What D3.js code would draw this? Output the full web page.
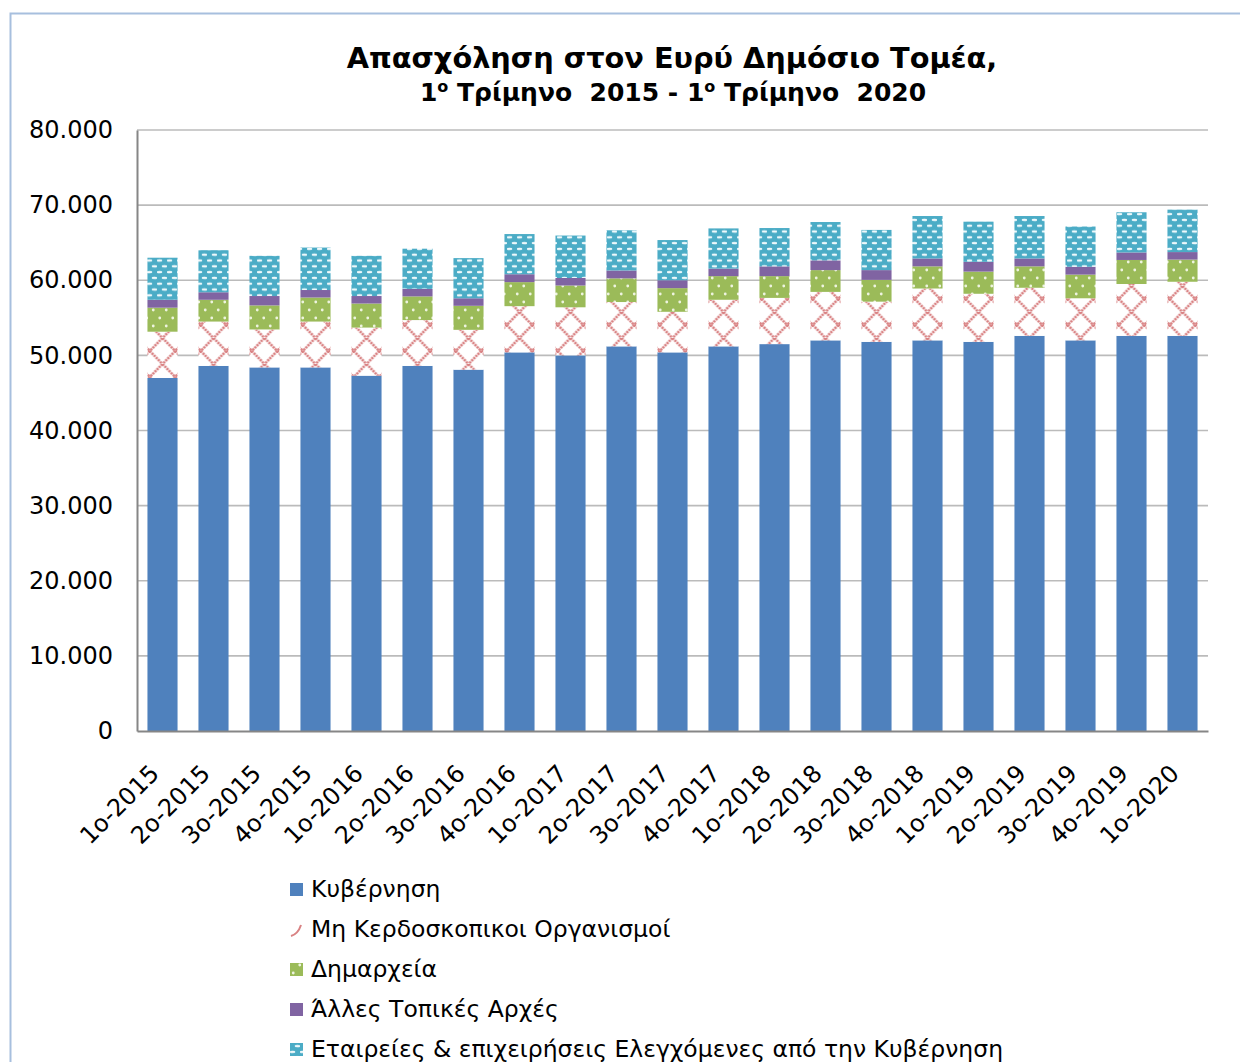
<!DOCTYPE html>
<html>
<head>
<meta charset="utf-8">
<script src="https://cdn.jsdelivr.net/npm/d3@7"></script>
<style>
  body { margin: 0; background: #fff; }
  svg { display: block; font-family: "DejaVu Sans", Verdana, sans-serif; }
</style>
</head>
<body>
<script>
// quarters on the x axis
var quarters = ["1ο-2015", "2ο-2015", "3ο-2015", "4ο-2015", "1ο-2016", "2ο-2016", "3ο-2016",
                "4ο-2016", "1ο-2017", "2ο-2017", "3ο-2017", "4ο-2017", "1ο-2018", "2ο-2018",
                "3ο-2018", "4ο-2018", "1ο-2019", "2ο-2019", "3ο-2019", "4ο-2019", "1ο-2020"];

// series values (employees), bottom to top
var kyvernisi = [47000, 48600, 48400, 48400, 47300, 48600, 48100, 50400, 50000, 51200, 50400,
                 51200, 51500, 52000, 51800, 52000, 51800, 52600, 52000, 52600, 52600];
var mhKerdoskopikoi = [6150, 5900, 5050, 6100, 6400, 6100, 5300, 6150, 6400, 5900, 5400,
                       6200, 6150, 6450, 5350, 6900, 6400, 6400, 5600, 6900, 7200];
var dimarxeia = [3200, 2900, 3200, 3200, 3200, 3150, 3200, 3200, 2900, 3150, 3150,
                 3150, 2900, 2900, 2900, 2950, 2950, 2850, 3150, 3200, 2950];
var allesArxes = [1050, 1000, 1250, 1000, 1000, 1000, 1000, 1050, 1000, 1050, 1050,
                  1000, 1300, 1300, 1300, 1050, 1300, 1050, 1050, 1000, 1000];
var etaireies = [5600, 5600, 5350, 5650, 5350, 5350, 5350, 5350, 5650, 5350, 5350,
                 5350, 5100, 5100, 5350, 5650, 5350, 5650, 5350, 5350, 5650];

var seriesNames = ["Κυβέρνηση", "Μη Κερδοσκοπικοι Οργανισμοί", "Δημαρχεία",
                   "Άλλες Τοπικές Αρχές", "Εταιρείες & επιχειρήσεις Ελεγχόμενες από την Κυβέρνηση"];
var seriesKeys = ["kyv", "npo", "dim", "alles", "etair"];
var yTicks = [0, 10000, 20000, 30000, 40000, 50000, 60000, 70000, 80000];

var width = 1240, height = 1062;
var margin = {top: 130, right: 32, bottom: 331, left: 137};
var plotW = width - margin.left - margin.right;
var plotH = height - margin.top - margin.bottom;

// build rows for the stack
var rows = quarters.map(function(q, i) {
  return {q: q, kyv: kyvernisi[i], npo: mhKerdoskopikoi[i], dim: dimarxeia[i],
          alles: allesArxes[i], etair: etaireies[i]};
});
var stacked = d3.stack().keys(seriesKeys)(rows);

var svg = d3.select("body")
            .append("svg")
            .attr("width", width)
            .attr("height", height);

// chart area border
svg.append("rect")
   .attr("x", 10.5)
   .attr("y", 13.5)
   .attr("width", width)
   .attr("height", height)
   .attr("fill", "none")
   .attr("stroke", "#A7BFDE")
   .attr("stroke-width", 2);

var g = svg.append("g")
           .attr("transform", "translate(" + margin.left + "," + margin.top + ")");

var xScale = d3.scaleBand()
  .domain(quarters)
  .range([0, plotW])
  .paddingInner(0.41)
  .paddingOuter(0.205);

var yScale = d3.scaleLinear()
  .domain([0, 80000])
  .range([plotH, 0]);

var step = xScale.step();

// fill patterns
var defs = svg.append("defs");

var cross = defs.append("pattern")
  .attr("id", "pat-npo")
  .attr("patternUnits", "userSpaceOnUse")
  .attr("x", step / 2)
  .attr("y", 0)
  .attr("width", step / 2)
  .attr("height", 26);
cross.append("rect").attr("width", step / 2).attr("height", 26).attr("fill", "#fff");
cross.append("path")
  .attr("d", "M0,0L" + (step / 2) + ",26M" + (step / 2) + ",0L0,26")
  .attr("stroke", "#D98283")
  .attr("stroke-width", 2.6)
  .attr("stroke-dasharray", "2.2,0.8");

var dots = defs.append("pattern")
  .attr("id", "pat-dim")
  .attr("patternUnits", "userSpaceOnUse")
  .attr("width", 13)
  .attr("height", 16);
dots.append("rect").attr("width", 13).attr("height", 16).attr("fill", "#9BBB59");
dots.append("circle").attr("cx", 3.25).attr("cy", 4).attr("r", 1.4).attr("fill", "#EEF4E0");
dots.append("circle").attr("cx", 9.75).attr("cy", 12).attr("r", 1.4).attr("fill", "#EEF4E0");

var ovals = defs.append("pattern")
  .attr("id", "pat-etair")
  .attr("patternUnits", "userSpaceOnUse")
  .attr("width", 10)
  .attr("height", 11.6);
ovals.append("rect").attr("width", 10).attr("height", 11.6).attr("fill", "#4BACC6");
ovals.append("ellipse").attr("cx", 2.5).attr("cy", 2.9).attr("rx", 2.9).attr("ry", 1.3).attr("fill", "#EEF8FB");
ovals.append("ellipse").attr("cx", 7.5).attr("cy", 8.7).attr("rx", 2.9).attr("ry", 1.3).attr("fill", "#EEF8FB");

var fills = {kyv: "#4F81BD", npo: "url(#pat-npo)", dim: "url(#pat-dim)",
             alles: "#8064A2", etair: "url(#pat-etair)"};

// gridlines
g.selectAll("line.grid")
  .data(yTicks.slice(1))
  .enter()
  .append("line")
  .attr("class", "grid")
  .attr("x1", 0)
  .attr("x2", plotW)
  .attr("y1", function(d) { return yScale(d); })
  .attr("y2", function(d) { return yScale(d); })
  .attr("stroke", "#BBBBBB")
  .attr("stroke-width", 1.6);

// stacked bars
g.selectAll("g.series")
  .data(stacked)
  .enter()
  .append("g")
  .attr("class", "series")
  .attr("fill", function(d) { return fills[d.key]; })
  .selectAll("rect")
  .data(function(d) { return d; })
  .enter()
  .append("rect")
  .attr("x", function(d) { return xScale(d.data.q); })
  .attr("y", function(d) { return yScale(d[1]); })
  .attr("width", xScale.bandwidth())
  .attr("height", function(d) { return yScale(d[0]) - yScale(d[1]); });

// y axis
var yAxis = g.append("g")
  .call(d3.axisLeft(yScale).tickValues(yTicks).tickSize(0).tickPadding(24)
          .tickFormat(function(d) { return d3.format(",")(d).replace(/,/g, "."); }));
yAxis.select(".domain").attr("stroke", "#868686").attr("stroke-width", 2);
yAxis.selectAll("text")
  .attr("font-family", "DejaVu Sans, Verdana, sans-serif")
  .attr("font-size", 24)
  .attr("fill", "#000");

// x axis
var xAxis = g.append("g")
  .attr("transform", "translate(0," + plotH + ")")
  .call(d3.axisBottom(xScale).tickSize(0).tickFormat(""));
xAxis.select(".domain").attr("stroke", "#868686").attr("stroke-width", 2);

g.selectAll("text.xlab")
  .data(quarters)
  .enter()
  .append("text")
  .attr("class", "xlab")
  .attr("text-anchor", "end")
  .attr("font-size", 24)
  .attr("fill", "#000")
  .attr("transform", function(d) {
    return "translate(" + (xScale(d) + xScale.bandwidth() / 2 - 2) + "," + (plotH + 44) + ") rotate(-45)";
  })
  .text(function(d) { return d; });

// title
function fitWidth(sel, target) {
  var size = +sel.attr("font-size");
  var len = sel.node().getComputedTextLength();
  sel.attr("font-size", size * target / len);
}

var t1 = svg.append("text")
  .attr("x", 672)
  .attr("y", 68)
  .attr("text-anchor", "middle")
  .attr("font-weight", "bold")
  .attr("font-size", 26)
  .attr("fill", "#000")
  .text("Απασχόληση στον Ευρύ Δημόσιο Τομέα,");
fitWidth(t1, 651);

var t2 = svg.append("text")
  .attr("x", 673)
  .attr("y", 101)
  .attr("text-anchor", "middle")
  .attr("font-weight", "bold")
  .attr("font-size", 25)
  .attr("fill", "#000")
  .style("white-space", "pre");
t2.append("tspan").text("1");
t2.append("tspan").attr("dy", -9).attr("font-size", 16).text("ο");
t2.append("tspan").attr("dy", 9).text(" Τρίμηνο  2015 - 1");
t2.append("tspan").attr("dy", -9).attr("font-size", 16).text("ο");
t2.append("tspan").attr("dy", 9).text(" Τρίμηνο  2020");

// legend
var legend = svg.append("g").attr("transform", "translate(290,889)");
var items = legend.selectAll("g")
  .data(seriesKeys)
  .enter()
  .append("g")
  .attr("transform", function(d, i) { return "translate(0," + (i * 40) + ")"; });

items.filter(function(d) { return d != "npo"; })
  .append("rect")
  .attr("x", 0)
  .attr("y", -6)
  .attr("width", 13)
  .attr("height", 13)
  .attr("fill", function(d) { return fills[d]; });

items.filter(function(d) { return d == "npo"; })
  .append("path")
  .attr("d", "M1,7 Q8,5 11,-4")
  .attr("fill", "none")
  .attr("stroke", "#D98283")
  .attr("stroke-width", 2);

items.append("text")
  .attr("x", 21)
  .attr("y", 8)
  .attr("font-size", 23.5)
  .attr("fill", "#000")
  .text(function(d, i) { return seriesNames[i]; });
</script>
</body>
</html>
